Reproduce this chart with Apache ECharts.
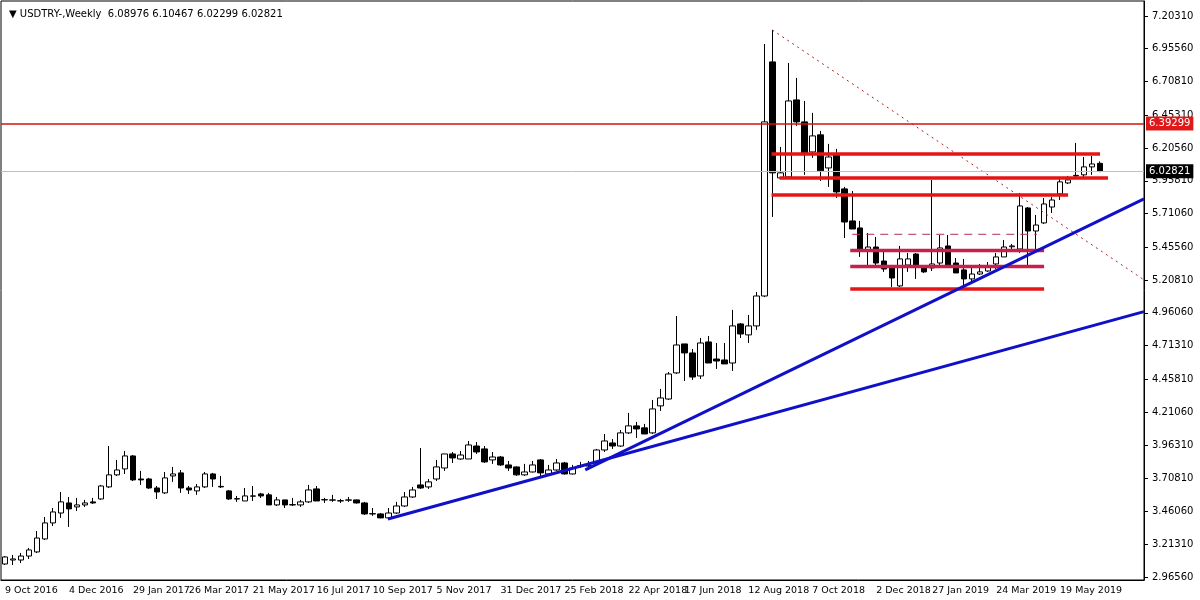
<!DOCTYPE html>
<html><head><meta charset="utf-8">
<script src="https://cdn.jsdelivr.net/npm/echarts@6/dist/echarts.min.js"></script>
<style>html,body{margin:0;padding:0;background:#fff}#c{width:1200px;height:600px}</style>
</head><body><div id="c"></div>
<script>
// weekly OHLC values [open, high, low, close]
const opens = [3.064,3.094,3.094,3.124,3.155,3.253,3.374,3.449,3.525,3.495,3.510,3.533,3.555,3.646,3.737,3.782,3.880,3.706,3.706,3.638,3.601,3.729,3.752,3.638,3.616,3.646,3.744,3.650,3.616,3.557,3.540,3.576,3.593,3.586,3.510,3.548,3.512,3.510,3.533,3.631,3.550,3.546,3.542,3.546,3.548,3.525,3.444,3.442,3.412,3.449,3.502,3.570,3.661,3.646,3.706,3.789,3.895,3.857,3.857,3.955,3.933,3.850,3.872,3.812,3.797,3.737,3.759,3.850,3.744,3.774,3.827,3.744,3.804,3.806,3.827,3.925,3.978,3.955,4.054,4.107,4.092,4.054,4.258,4.310,4.507,4.726,4.658,4.484,4.741,4.612,4.605,4.582,4.877,4.794,4.862,5.088,6.856,5.980,5.987,6.569,6.403,6.176,6.305,6.055,6.153,5.897,5.655,5.602,5.436,5.458,5.352,5.300,5.164,5.322,5.405,5.307,5.300,5.337,5.466,5.337,5.285,5.217,5.254,5.277,5.330,5.383,5.460,5.443,5.753,5.579,5.640,5.760,5.859,5.942,5.995,6.003,6.063,6.0898];
const highs = [3.124,3.132,3.147,3.185,3.313,3.419,3.487,3.608,3.570,3.563,3.548,3.563,3.661,3.955,3.850,3.918,3.887,3.767,3.714,3.653,3.759,3.797,3.774,3.653,3.668,3.759,3.752,3.729,3.623,3.578,3.638,3.653,3.601,3.601,3.570,3.548,3.563,3.548,3.661,3.653,3.563,3.586,3.555,3.570,3.550,3.533,3.487,3.449,3.487,3.533,3.608,3.646,3.940,3.706,3.850,3.895,3.910,3.918,3.993,3.985,3.955,3.910,3.880,3.842,3.800,3.820,3.842,3.857,3.812,3.857,3.835,3.812,3.835,3.842,3.933,4.046,4.008,4.076,4.205,4.137,4.122,4.303,4.386,4.514,4.937,4.726,4.688,4.771,4.786,4.733,4.733,4.983,4.884,4.945,5.118,6.991,7.097,6.214,6.848,6.735,6.561,6.471,6.335,6.237,6.199,5.912,5.881,5.655,5.564,5.534,5.436,5.307,5.466,5.413,5.413,5.322,5.965,5.549,5.549,5.375,5.368,5.300,5.330,5.345,5.413,5.511,5.481,5.866,5.760,5.700,5.828,5.836,5.987,5.995,6.244,6.138,6.146,6.1047];
const lows = [3.056,3.056,3.071,3.102,3.147,3.245,3.351,3.412,3.344,3.464,3.495,3.518,3.548,3.638,3.729,3.744,3.691,3.661,3.631,3.555,3.593,3.684,3.601,3.593,3.586,3.638,3.646,3.638,3.548,3.533,3.540,3.540,3.563,3.510,3.502,3.487,3.502,3.495,3.525,3.540,3.525,3.533,3.525,3.533,3.520,3.434,3.427,3.410,3.410,3.442,3.495,3.563,3.631,3.631,3.691,3.767,3.827,3.850,3.857,3.895,3.827,3.820,3.805,3.767,3.730,3.730,3.755,3.722,3.737,3.767,3.740,3.740,3.789,3.774,3.812,3.910,3.933,3.948,4.046,4.016,4.046,4.046,4.220,4.303,4.499,4.446,4.454,4.461,4.582,4.537,4.575,4.522,4.771,4.733,4.832,5.080,5.685,5.980,5.980,6.373,6.003,6.131,5.957,5.912,5.828,5.526,5.594,5.383,5.322,5.322,5.270,5.156,5.156,5.270,5.217,5.262,5.277,5.322,5.307,5.262,5.156,5.194,5.247,5.270,5.292,5.383,5.436,5.413,5.322,5.436,5.632,5.715,5.813,5.934,5.980,5.987,6.003,6.0230];
const closes = [3.117,3.102,3.124,3.170,3.260,3.374,3.457,3.533,3.480,3.510,3.525,3.525,3.653,3.737,3.774,3.880,3.699,3.699,3.638,3.608,3.714,3.744,3.638,3.623,3.646,3.744,3.706,3.646,3.555,3.555,3.578,3.578,3.578,3.510,3.548,3.510,3.510,3.533,3.623,3.540,3.548,3.548,3.540,3.548,3.525,3.442,3.442,3.412,3.449,3.502,3.570,3.623,3.638,3.684,3.797,3.895,3.865,3.887,3.963,3.910,3.835,3.872,3.812,3.789,3.737,3.759,3.812,3.752,3.774,3.827,3.744,3.789,3.805,3.805,3.925,3.993,3.955,4.054,4.107,4.084,4.046,4.235,4.318,4.499,4.718,4.658,4.476,4.733,4.582,4.597,4.575,4.862,4.801,4.862,5.088,6.403,6.018,6.018,6.561,6.403,6.168,6.297,6.033,6.138,5.874,5.647,5.594,5.436,5.458,5.337,5.292,5.224,5.368,5.368,5.307,5.270,5.330,5.451,5.322,5.262,5.217,5.254,5.270,5.307,5.383,5.458,5.466,5.768,5.579,5.624,5.783,5.813,5.950,5.965,5.999,6.063,6.085,6.0282];
const slots = 143;
const tickIdx = [0,8,16,23,31,39,46,54,62,70,78,85,93,101,109,116,124,132];
const tickText = ['9 Oct 2016','4 Dec 2016','29 Jan 2017','26 Mar 2017','21 May 2017','16 Jul 2017','10 Sep 2017','5 Nov 2017','31 Dec 2017','25 Feb 2018','22 Apr 2018','17 Jun 2018','12 Aug 2018','7 Oct 2018','2 Dec 2018','27 Jan 2019','24 Mar 2019','19 May 2019'];
const yTicks = [7.2031,6.9556,6.7081,6.4531,6.2056,5.9581,5.7106,5.4556,5.2081,4.9606,4.7131,4.4581,4.2106,3.9631,3.7081,3.4606,3.2131,2.9656];
// drawn horizontal levels (value, from index, to index, colour kind)
const segLevel = [6.161,5.980,5.851,5.431,5.310,5.140];
const segFrom  = [95.9,96.9,95.9,105.75,105.75,105.75];
const segTo    = [137,138,133,130,130,130];
const segKind  = ['r','r','r','c','c','r'];
const dashLevel = 5.554, dashFrom = 106, dashTo = 129.1;
const resist = 6.39299, last = 6.02821;
const trendDown = [[96,7.097],[142.5,5.21]];
const blueUpper = [[72.6,3.774],[142.5,5.822]];
const blueLower = [[47.9,3.404],[142.5,4.97]];

const cats = Array.from({length: slots}, (_, i) => String(i));
const candle = opens.map((o, i) => [o, closes[i], lows[i], highs[i]]);
const tickMap = {}; tickIdx.forEach((t, k) => tickMap[t] = tickText[k]);
const FONT = 'DejaVu Sans';

const series = [{
  type: 'candlestick', data: candle, barWidth: 6,
  itemStyle: {color: '#fff', color0: '#000', borderColor: '#000', borderColor0: '#000', borderWidth: 1},
  markLine: {
    symbol: 'none', silent: true, animation: false,
    data: [
      {yAxis: resist, lineStyle: {color: '#d41010', width: 1.5, type: 'solid'},
       label: {show: true, position: 'end', distance: 2, formatter: resist.toFixed(5), color: '#fff', backgroundColor: '#e01818', padding: [2, 3], fontSize: 10, fontFamily: FONT}},
      {yAxis: last, lineStyle: {color: '#c0c0c0', width: 1, type: 'solid'},
       label: {show: true, position: 'end', distance: 2, formatter: last.toFixed(5), color: '#fff', backgroundColor: '#000', padding: [2, 3], fontSize: 10, fontFamily: FONT}}
    ]
  }
}];
const overlay = [];
segLevel.forEach((v, k) => overlay.push({coords: [[segFrom[k], v], [segTo[k], v]], color: segKind[k] === 'c' ? '#c8204c' : '#e51515', width: 3.5, type: 'solid'}));
overlay.push({coords: [[dashFrom, dashLevel], [dashTo, dashLevel]], color: '#b03050', width: 1, type: [8, 6]});
overlay.push({coords: trendDown, color: '#b02020', width: 1, type: [2, 4]});
overlay.push({coords: blueUpper, color: '#1010c8', width: 3, type: 'solid'});
overlay.push({coords: blueLower, color: '#1010c8', width: 3, type: 'solid'});
overlay.forEach(o => series.push({
  type: 'custom', silent: true, z: 3, data: [0], clip: false,
  renderItem: (params, api) => {
    const p = o.coords.map(c => {
      const cs = api.coord([0, c[1]]);
      const cs0 = api.coord([0, 0]); const cs1 = api.coord([1, 0]);
      return [cs0[0] + (cs1[0] - cs0[0]) * c[0], cs[1]];
    });
    return {type: 'line', shape: {x1: p[0][0], y1: p[0][1], x2: p[1][0], y2: p[1][1]},
            style: {stroke: o.color, lineWidth: o.width, lineDash: o.type === 'solid' ? null : o.type}};
  }
}));

const chart = echarts.init(document.getElementById('c'));
chart.setOption({
  animation: false,
  backgroundColor: '#fff',
  title: {text: '▼ USDTRY-,Weekly  6.08976 6.10467 6.02299 6.02821', left: 4, top: 4,
          textStyle: {fontSize: 10, fontWeight: 'normal', color: '#000', fontFamily: FONT}},
  grid: {left: 1, right: 56, top: 1, bottom: 20, show: true, borderColor: '#000', borderWidth: 1},
  xAxis: {
    type: 'category', data: cats, boundaryGap: true,
    axisLine: {lineStyle: {color: '#000'}},
    axisTick: {alignWithLabel: true, interval: i => tickMap[i] !== undefined, length: 4, lineStyle: {color: '#000'}},
    axisLabel: {interval: i => tickMap[i] !== undefined, formatter: (v, i) => tickMap[i] || '', align: 'left', margin: 6, color: '#000', fontSize: 9.5, fontFamily: FONT},
    splitLine: {show: false}
  },
  yAxis: {
    type: 'value', position: 'right', min: 2.943, max: 7.316, scale: true,
    axisLine: {show: true, lineStyle: {color: '#000'}},
    axisTick: {show: true, customValues: yTicks, length: 4, lineStyle: {color: '#000'}},
    axisLabel: {customValues: yTicks, formatter: v => v.toFixed(5), color: '#000', fontSize: 10, fontFamily: FONT, margin: 8},
    splitLine: {show: false}
  },
  series
});
</script></body></html>
